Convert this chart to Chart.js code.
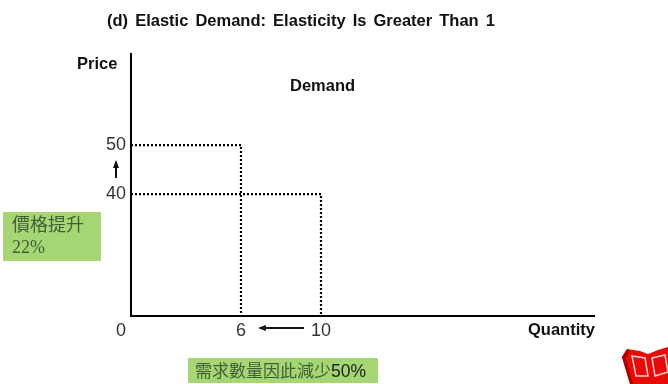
<!DOCTYPE html>
<html>
<head>
<meta charset="utf-8">
<style>
  html, body { margin: 0; background: #fff; }
  canvas { display: block; }
</style>
<script src="https://cdn.jsdelivr.net/npm/chart.js"></script>
</head>
<body>
<canvas id="chart" width="668" height="384"></canvas>
<script>
// Elastic demand: a price rise from 40 to 50 cuts quantity from 10 to 6
const prices = [50, 40];
const quantities = [6, 10];
const quantityTicks = [0, 6, 10];
const priceTicks = [40, 50];

const Y_AXIS_AT = 0.5;   // the price axis crosses just right of the 0 label
const X_MAX = 23.7;
const Y_MIN = 15.1;
const Y_MAX = 68.6;

const SANS = '"Liberation Sans", Arial, sans-serif';
const INK = '#000';

// dotted guide from the price axis, across to the quantity, down to the quantity axis
const guides = prices.map((p, i) => ({
    data: [
        { x: Y_AXIS_AT, y: p },
        { x: quantities[i], y: p },
        { x: quantities[i], y: Y_MIN }
    ],
    borderColor: INK,
    borderWidth: 2.2,
    borderDash: [2, 2],
    pointRadius: 0,
    showLine: true,
    clip: false,
    tension: 0
}));

const baseline = {
    data: [{ x: Y_AXIS_AT, y: Y_MIN }, { x: X_MAX, y: Y_MIN }],
    borderColor: INK,
    borderWidth: 2,
    pointRadius: 0,
    clip: false,
    showLine: true
};

function arrow(ctx, x1, y1, x2, y2) {
    const a = Math.atan2(y2 - y1, x2 - x1);
    ctx.strokeStyle = '#111';
    ctx.fillStyle = '#111';
    ctx.lineWidth = 2;
    ctx.beginPath();
    ctx.moveTo(x1, y1);
    ctx.lineTo(x2, y2);
    ctx.stroke();
    ctx.beginPath();
    ctx.moveTo(x2 + 2 * Math.cos(a), y2 + 2 * Math.sin(a));
    ctx.lineTo(x2 - 6 * Math.cos(a) + 3 * Math.sin(a), y2 - 6 * Math.sin(a) - 3 * Math.cos(a));
    ctx.lineTo(x2 - 6 * Math.cos(a) - 3 * Math.sin(a), y2 - 6 * Math.sin(a) + 3 * Math.cos(a));
    ctx.closePath();
    ctx.fill();
}

function text(ctx, str, x, y, font, color) {
    ctx.font = font;
    ctx.fillStyle = color;
    ctx.fillText(str, x, y);
}

function poly(ctx, pts) {
    ctx.beginPath();
    pts.forEach(([px, py], i) => (i ? ctx.lineTo(px, py) : ctx.moveTo(px, py)));
    ctx.closePath();
}

// small open-book icon in the corner
function drawBook(ctx) {
    ctx.fillStyle = '#e80c08';
    poly(ctx, [[622, 357], [627, 349], [640, 351], [648, 354], [658, 350], [668, 347], [668, 384], [630, 384]]);
    ctx.fill();
    ctx.fillStyle = '#b00000';
    poly(ctx, [[622, 357], [627, 349], [630, 351], [626, 358], [633, 384], [630, 384]]);
    ctx.fill();
    ctx.strokeStyle = '#ffd0d0';
    ctx.lineWidth = 1.5;
    poly(ctx, [[632, 356], [645, 358], [648, 376], [636, 376]]);
    ctx.stroke();
    poly(ctx, [[652, 358], [665, 355], [668, 372], [655, 376]]);
    ctx.stroke();
}

const annotations = {
    id: 'annotations',
    afterDraw(chart) {
        const { ctx, scales: { x, y } } = chart;
        ctx.save();
        ctx.textBaseline = 'alphabetic';
        ctx.textAlign = 'left';

        ctx.wordSpacing = '2.5px';
        text(ctx, '(d) Elastic Demand: Elasticity Is Greater Than 1', 107, 26, 'bold 16.5px ' + SANS, '#111');
        ctx.wordSpacing = '0px';
        text(ctx, 'Price', 77, 69, 'bold 16.5px ' + SANS, '#111');
        text(ctx, 'Demand', 290, 91, 'bold 16.5px ' + SANS, '#111');
        text(ctx, 'Quantity', 528, 335, 'bold 16.5px ' + SANS, '#111');

        // movement arrows between the two prices and the two quantities
        arrow(ctx, 116, y.getPixelForValue(prices[1]) - 16, 116, y.getPixelForValue(prices[0]) + 17);
        arrow(ctx, x.getPixelForValue(quantities[1]) - 17, 328, x.getPixelForValue(quantities[0]) + 19, 328);

        // green callouts
        ctx.fillStyle = '#a6d673';
        ctx.fillRect(3, 212, 98, 49);
        ctx.fillRect(188, 358, 190, 25);
        const note = '#3f5f38';
        text(ctx, '價格提升', 12, 231, '18px "Noto Sans CJK TC"', note);
        text(ctx, '22%', 12, 253, '18px "Liberation Serif", serif', note);
        text(ctx, '需求數量因此減少', 195, 377, '17px "Noto Sans CJK TC"', note);
        text(ctx, '50%', 331, 377, '17.5px ' + SANS, '#222');

        drawBook(ctx);
        ctx.restore();
    }
};

new Chart(document.getElementById('chart'), {
    type: 'scatter',
    data: { datasets: [...guides, baseline] },
    plugins: [annotations],
    options: {
        responsive: false,
        animation: false,
        layout: { padding: { left: 121, right: 73, top: 54, bottom: 0 } },
        plugins: { legend: { display: false }, tooltip: { enabled: false } },
        scales: {
            x: {
                type: 'linear',
                min: 0,
                max: X_MAX,
                afterBuildTicks: s => { s.ticks = quantityTicks.map(value => ({ value })); },
                afterFit: s => { s.height = 68; },
                grid: { display: false, drawTicks: false },
                border: { display: false },
                ticks: {
                    color: '#333',
                    padding: 4,
                    maxRotation: 0,
                    autoSkip: false,
                    font: { family: SANS, size: 18 }
                }
            },
            y: {
                type: 'linear',
                position: { x: Y_AXIS_AT },
                min: Y_MIN,
                max: Y_MAX,
                afterBuildTicks: s => { s.ticks = priceTicks.map(value => ({ value })); },
                grid: { display: false },
                border: { display: true, color: INK, width: 2 },
                ticks: {
                    color: '#333',
                    autoSkip: false,
                    // an axis placed by value ignores tick padding, so pad the label itself
                    callback: v => v + ' ',
                    font: { family: SANS, size: 18 }
                }
            }
        }
    }
});
</script>
</body>
</html>
